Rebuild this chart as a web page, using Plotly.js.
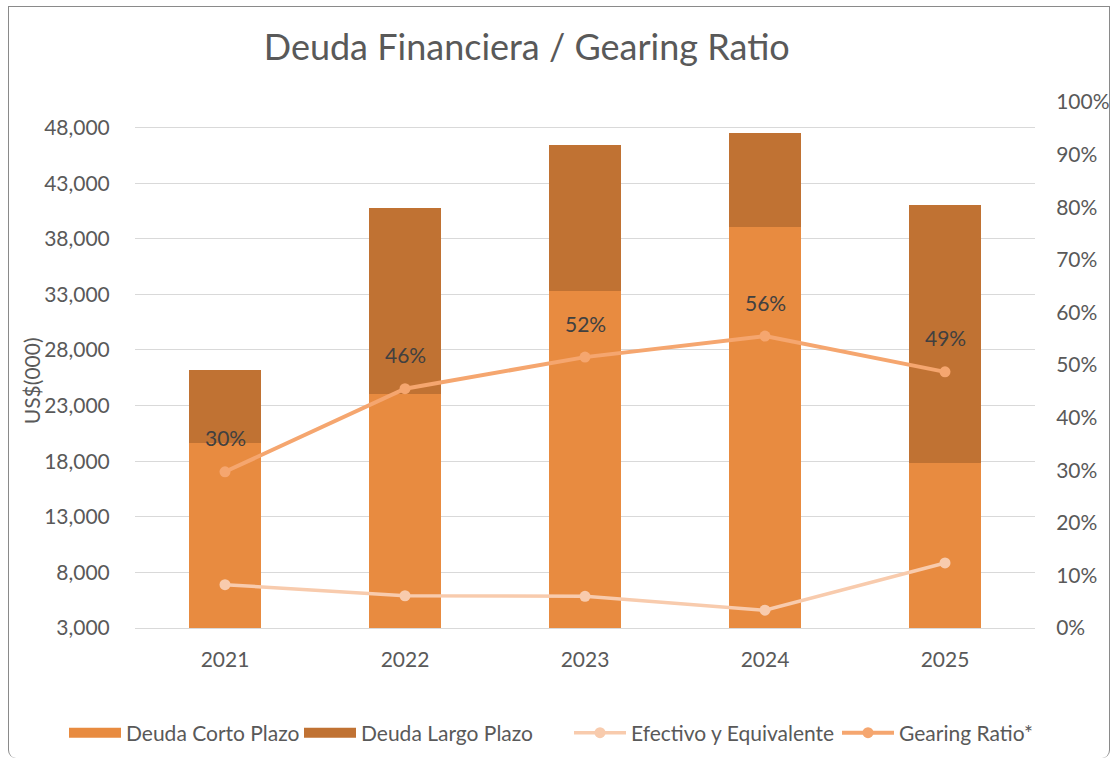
<!DOCTYPE html>
<html>
<head>
<meta charset="utf-8">
<script src="https://cdn.plot.ly/plotly-3.0.1.min.js"></script>
<style>
  html, body { margin: 0; padding: 0; background: #ffffff; }
  #chart { width: 1116px; height: 758px; }
  #frame { position: absolute; left: 8px; top: 6px; width: 1102px; height: 752px;
           border: 1.5px solid #8a8a8a; border-bottom: none; box-sizing: border-box;
           border-radius: 0 0 8px 8px; pointer-events: none; }
</style>
</head>
<body>
<div id="chart"></div>
<div id="frame"></div>
<script>
const years = ['2021', '2022', '2023', '2024', '2025'];
const deudaCorto = [19600, 24000, 33300, 39100, 17800];
const deudaLargo = [6600, 16760, 13100, 8420, 23260];
const efectivo = [6900, 5900, 5850, 4600, 8850];
const gearing = [0.297, 0.455, 0.515, 0.555, 0.487];
const leftTicks = [3000, 8000, 13000, 18000, 23000, 28000, 33000, 38000, 43000, 48000];
const rightTicks = [0, 0.1, 0.2, 0.3, 0.4, 0.5, 0.6, 0.7, 0.8, 0.9, 1.0];

const FONT = 'Lato, "Open Sans", sans-serif';
const GRAY = '#595959';
const C_CORTO = '#E88B40';
const C_LARGO = '#C07233';
const C_EFECT = '#F8CBAD';
const C_GEAR = '#F5A66F';

const traces = [
  { type: 'bar', name: 'Deuda Corto Plazo', x: years, y: deudaCorto, showlegend: false,
    marker: { color: C_CORTO }, yaxis: 'y' },
  { type: 'bar', name: 'Deuda Largo Plazo', x: years, y: deudaLargo, showlegend: false,
    marker: { color: C_LARGO }, yaxis: 'y' },
  // legend swatches for the bar series (wide rectangles like the original)
  { type: 'scatter', mode: 'lines', name: 'Deuda Corto Plazo', x: [null], y: [null],
    line: { color: C_CORTO, width: 13 }, hoverinfo: 'skip', legend: 'legend' },
  { type: 'scatter', mode: 'lines', name: 'Deuda Largo Plazo', x: [null], y: [null],
    line: { color: C_LARGO, width: 13 }, hoverinfo: 'skip', legend: 'legend2' },
  { type: 'scatter', mode: 'lines+markers', name: 'Efectivo y Equivalente', x: years, y: efectivo,
    line: { color: C_EFECT, width: 3.5 }, marker: { color: C_EFECT, size: 11 }, yaxis: 'y',
    legend: 'legend3' },
  { type: 'scatter', mode: 'lines+markers', name: 'Gearing Ratio*', x: years, y: gearing,
    line: { color: C_GEAR, width: 4 }, marker: { color: C_GEAR, size: 11 }, yaxis: 'y2',
    legend: 'legend4' }
];

const annotations = years.map((yr, i) => ({
  x: i, y: gearing[i], xref: 'x', yref: 'y2',
  text: Math.round(gearing[i] * 100) + '%', showarrow: false, yshift: 34,
  font: { family: FONT, size: 21, color: '#404040' }
}));
annotations.push({
  xref: 'paper', yref: 'paper', x: -0.1156, y: 0.471, xanchor: 'center', yanchor: 'middle',
  text: 'US$(000)', textangle: -90,
  showarrow: false, font: { family: FONT, size: 21, color: GRAY }
});

function leg(px) {
  return { orientation: 'h', xref: 'container', yref: 'container',
           x: px / 1116, xanchor: 'left', y: 1 - 733 / 758, yanchor: 'middle',
           itemwidth: 52, bgcolor: 'rgba(0,0,0,0)',
           font: { family: FONT, size: 21, color: GRAY } };
}

const layout = {
  width: 1116, height: 758,
  margin: { l: 135, r: 81, t: 102, b: 130, pad: 0, autoexpand: false },
  paper_bgcolor: '#ffffff', plot_bgcolor: '#ffffff',
  font: { family: FONT, size: 21, color: GRAY },
  title: { text: 'Deuda Financiera / Gearing Ratio', x: 0.472, xref: 'container', xanchor: 'center',
           y: 0.938, yref: 'container', yanchor: 'middle',
           font: { family: FONT, size: 36, color: GRAY } },
  barmode: 'stack', bargap: 0.6,
  showlegend: true,
  legend: leg(64),
  legend2: leg(299),
  legend3: leg(569),
  legend4: leg(837),
  xaxis: { type: 'category', range: [-0.5, 4.5], showgrid: false, showline: true,
           linecolor: '#d9d9d9', linewidth: 1,
           ticks: 'outside', ticklen: 13, tickcolor: 'rgba(0,0,0,0)',
           tickfont: { family: FONT, size: 21, color: GRAY }, fixedrange: true },
  yaxis: { range: [3000, 50300], tickvals: leftTicks, tickformat: ',.0f',
           showgrid: true, gridcolor: '#d9d9d9', gridwidth: 1, zeroline: false, showline: false,
           ticks: 'outside', ticklen: 20, tickcolor: 'rgba(0,0,0,0)',
           tickfont: { family: FONT, size: 21, color: GRAY } },
  yaxis2: { overlaying: 'y', side: 'right', range: [0, 1], tickvals: rightTicks, tickformat: '.0%',
            showgrid: false, zeroline: false, showline: false,
            ticks: 'outside', ticklen: 16, tickcolor: 'rgba(0,0,0,0)',
            tickfont: { family: FONT, size: 21, color: GRAY } },
  annotations: annotations
};

Plotly.newPlot('chart', traces, layout, { displayModeBar: false, staticPlot: true });
</script>
</body>
</html>
